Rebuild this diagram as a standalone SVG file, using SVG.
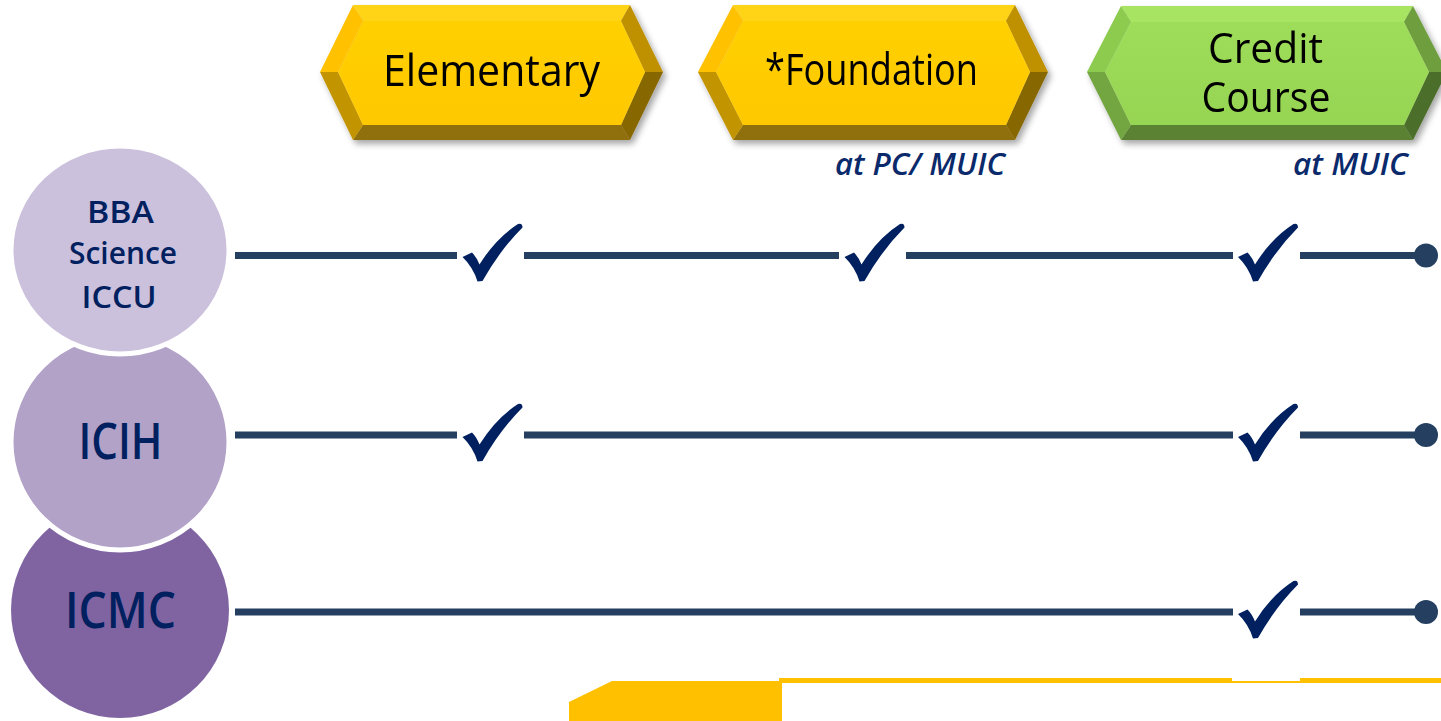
<svg xmlns="http://www.w3.org/2000/svg" xmlns:xlink="http://www.w3.org/1999/xlink" width="1441" height="721" viewBox="0 0 1441 721">
<style>
.hx{font-family:"Open Sans","Noto Sans","Liberation Sans",sans-serif;font-size:44px;font-weight:500;fill:#000;text-anchor:middle}
.hx2{font-size:42px}
.sub{font-family:"Open Sans","Noto Sans","Liberation Sans",sans-serif;font-size:30px;font-style:italic;font-weight:600;fill:#0B2A6B;text-anchor:middle}
.ct{font-family:"Open Sans","Noto Sans","Liberation Sans",sans-serif;font-weight:600;fill:#002060;text-anchor:middle}
.ln{stroke:#243F60;stroke-width:7;fill:none}
.dot{fill:#243F60}
.chk{fill:#002060}
.y-face{fill:url(#yface)}.y-top{fill:#FFD414}.y-lu{fill:#FFC100}.y-ll{fill:#C29400}.y-ru{fill:#BF9000}.y-rl{fill:#876800}.y-bot{fill:#8F6F0C}
.g-face{fill:url(#gface)}.g-top{fill:#A6E462}.g-lu{fill:#8CCB4E}.g-ll{fill:#73A640}.g-ru{fill:#6E9E3C}.g-rl{fill:#4C6E2A}.g-bot{fill:#5A8233}
</style>
<defs>
<linearGradient id="yface" x1="0" y1="0" x2="0" y2="1"><stop offset="0" stop-color="#FFD000"/><stop offset="1" stop-color="#FFC800"/></linearGradient>
<linearGradient id="gface" x1="0" y1="0" x2="0" y2="1"><stop offset="0" stop-color="#9EDD5A"/><stop offset="1" stop-color="#96D452"/></linearGradient>
<filter id="sh" x="-5%" y="-5%" width="115%" height="125%"><feDropShadow dx="3" dy="4" stdDeviation="3" flood-color="#000" flood-opacity="0.35"/></filter>
<path id="check" d="M2.5,2 L12,-2.5 Q16.5,2 19.5,9.5 Q36,-17 58,-31 Q62.5,-32.5 62.5,-27.5 Q40,-5 22.5,26 L17.5,26.5 Q13,12 2.5,2 Z"/>
</defs>

<g id="node-elementary" filter="url(#sh)">
<polygon class="y-top" points="353,5 630,5 621,21 363,21"/>
<polygon class="y-bot" points="353,140 630,140 621,125 363,125"/>
<polygon class="y-lu" points="320,72 353,5 363,21 338,72"/>
<polygon class="y-ll" points="320,72 338,72 363,125 353,140"/>
<polygon class="y-ru" points="630,5 663,72 645,72 621,21"/>
<polygon class="y-rl" points="663,72 630,140 621,125 645,72"/>
<polygon class="y-face" points="338,72 363,21 621,21 645,72 621,125 363,125"/>
<text class="hx" x="491.5" y="86" textLength="217" lengthAdjust="spacingAndGlyphs">Elementary</text>
</g>

<g id="node-foundation">
<g filter="url(#sh)">
<polygon class="y-top" points="733,5 1015,5 1006,21 743,21"/>
<polygon class="y-bot" points="733,140 1015,140 1006,125 743,125"/>
<polygon class="y-lu" points="698,72 733,5 743,21 716,72"/>
<polygon class="y-ll" points="698,72 716,72 743,125 733,140"/>
<polygon class="y-ru" points="1015,5 1048,72 1030,72 1006,21"/>
<polygon class="y-rl" points="1048,72 1015,140 1006,125 1030,72"/>
<polygon class="y-face" points="716,72 743,21 1006,21 1030,72 1006,125 743,125"/>
<text class="hx" x="871.5" y="85" textLength="213" lengthAdjust="spacingAndGlyphs">*Foundation</text>
</g>
<text class="sub" x="920" y="175" textLength="170" lengthAdjust="spacingAndGlyphs">at PC/ MUIC</text>
</g>

<g id="node-credit">
<g filter="url(#sh)">
<polygon class="g-top" points="1121,6 1413,6 1404,22 1131,22"/>
<polygon class="g-bot" points="1121,140 1413,140 1404,125 1131,125"/>
<polygon class="g-lu" points="1087,72 1121,6 1131,22 1105,72"/>
<polygon class="g-ll" points="1087,72 1105,72 1131,125 1121,140"/>
<polygon class="g-ru" points="1413,6 1447,72 1429,72 1404,22"/>
<polygon class="g-rl" points="1447,72 1413,140 1404,125 1429,72"/>
<polygon class="g-face" points="1105,72 1131,22 1404,22 1429,72 1404,125 1131,125"/>
<text class="hx hx2" x="1265.5" y="63" textLength="115" lengthAdjust="spacingAndGlyphs">Credit</text>
<text class="hx hx2" x="1266" y="112" textLength="129" lengthAdjust="spacingAndGlyphs">Course</text>
</g>
<text class="sub" x="1350.5" y="175" textLength="115" lengthAdjust="spacingAndGlyphs">at MUIC</text>
</g>

<g id="node-icmc">
<ellipse cx="120" cy="610" rx="109" ry="108" fill="#8064A2"/>
<text class="ct" x="120.5" y="628" font-size="50" font-weight="500" textLength="111" lengthAdjust="spacingAndGlyphs">ICMC</text>
</g>
<g id="node-icih">
<ellipse cx="120" cy="442" rx="109" ry="108" fill="#B2A2C7" stroke="#fff" stroke-width="5"/>
<text class="ct" x="120.5" y="459" font-size="50" font-weight="500" textLength="84" lengthAdjust="spacingAndGlyphs">ICIH</text>
</g>
<g id="node-bba">
<ellipse cx="120" cy="250" rx="109" ry="104" fill="#CBC1DC" stroke="#fff" stroke-width="5"/>
<text class="ct" x="120.5" y="223" font-size="30" textLength="67" lengthAdjust="spacingAndGlyphs">BBA</text>
<text class="ct" x="123" y="264" font-size="30" textLength="108" lengthAdjust="spacingAndGlyphs">Science</text>
<text class="ct" x="119" y="308" font-size="30" textLength="75" lengthAdjust="spacingAndGlyphs">ICCU</text>
</g>

<g id="connectors">
<path class="ln" d="M235,255.5H457M524,255.5H839M906,255.5H1233M1300,255.5H1426"/>
<path class="ln" d="M235,435H457M524,435H1233M1300,435H1426"/>
<path class="ln" d="M235,612H1233M1300,612H1426"/>
<circle class="dot" cx="1426" cy="255.5" r="12"/>
<circle class="dot" cx="1426" cy="435" r="12"/>
<circle class="dot" cx="1426" cy="612" r="12"/>
<use class="chk" href="#check" xlink:href="#check" transform="translate(460,255)"/>
<use class="chk" href="#check" xlink:href="#check" transform="translate(842,255)"/>
<use class="chk" href="#check" xlink:href="#check" transform="translate(1235.5,255)"/>
<use class="chk" href="#check" xlink:href="#check" transform="translate(460,435)"/>
<use class="chk" href="#check" xlink:href="#check" transform="translate(1235.5,435)"/>
<use class="chk" href="#check" xlink:href="#check" transform="translate(1235.5,612)"/>
</g>

<g id="bottom-band" fill="#FFC000">
<polygon points="569,721 569,702 612,681 782,681 782,721"/>
<polygon points="779,678 1232,678 1232,681 1300,681 1300,678 1441,678 1441,683 779,683"/>
</g>
</svg>
